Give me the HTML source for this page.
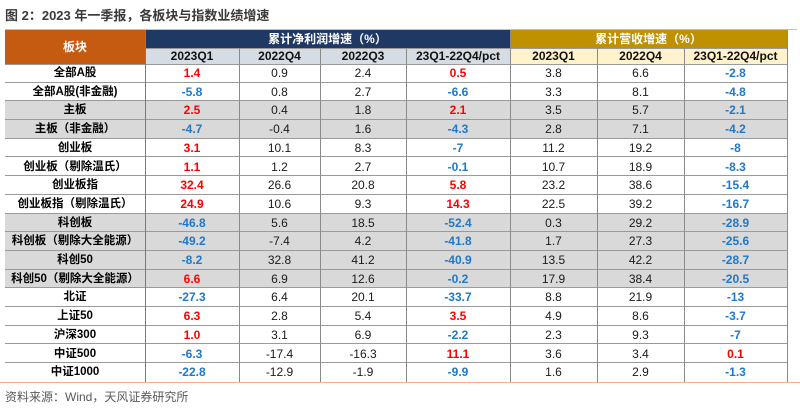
<!DOCTYPE html>
<html><head><meta charset="utf-8">
<style>
html,body{margin:0;padding:0;background:#fff;}
body{width:800px;height:413px;position:relative;overflow:hidden;font-family:"Liberation Sans","Noto Sans CJK SC",sans-serif;}
.abs{position:absolute;}
.title{left:5px;top:7px;height:18px;line-height:18px;font-size:13px;font-weight:bold;color:#3a3a3a;white-space:nowrap;}
.src{left:5px;top:389px;height:16px;line-height:16px;font-size:12px;color:#595959;white-space:nowrap;}
.hl{height:0;}
.r{position:absolute;left:5px;width:782px;height:18.7px;border-bottom:1px solid #9a9a9a;box-sizing:border-box;}
.g{background:#d9d9d9;}
.c{position:absolute;top:0;height:18px;line-height:18px;text-align:center;font-size:12px;color:#1a1a1a;white-space:nowrap;}
.c0{left:0;width:140px;font-weight:bold;font-size:11.5px;color:#000;}
.c1{left:140px;width:94px;}
.c2{left:234px;width:81px;}
.c3{left:315px;width:86px;}
.c4{left:401px;width:104px;}
.c5{left:505px;width:87px;}
.c6{left:592px;width:87px;}
.c7{left:679px;width:103px;}
.R{color:#ff0000;font-weight:bold;}
.B{color:#1f78c8;font-weight:bold;}
.v{position:absolute;width:1px;background:#8a8a8a;}
.h2{position:absolute;top:48px;height:16px;line-height:16px;text-align:center;font-size:12px;font-weight:bold;color:#111;}
</style></head><body>
<div class="abs title">图 2：2023 年一季报，各板块与指数业绩增速</div>

<!-- header -->
<div class="abs" style="left:5px;top:30px;width:140px;height:34px;background:#c55a11;color:#fff;font-weight:bold;font-size:12px;line-height:34px;text-align:center;">板块</div>
<div class="abs" style="left:145px;top:30px;width:365px;height:18px;background:#1f3864;color:#fff;font-weight:bold;font-size:12px;line-height:18px;text-align:center;">累计净利润增速（%）</div>
<div class="abs" style="left:510px;top:30px;width:277px;height:18px;background:#bf9000;color:#fff;font-weight:bold;font-size:12px;line-height:18px;text-align:center;">累计营收增速（%）</div>
<div class="abs" style="left:145px;top:48px;width:365px;height:16px;background:#d6dce4;"></div>
<div class="abs" style="left:510px;top:48px;width:277px;height:16px;background:#fff2cc;"></div>
<div class="h2" style="left:145px;width:94px;">2023Q1</div>
<div class="h2" style="left:239px;width:81px;">2022Q4</div>
<div class="h2" style="left:320px;width:86px;">2022Q3</div>
<div class="h2" style="left:406px;width:104px;">23Q1-22Q4/pct</div>
<div class="h2" style="left:510px;width:87px;">2023Q1</div>
<div class="h2" style="left:597px;width:87px;">2022Q4</div>
<div class="h2" style="left:684px;width:103px;">23Q1-22Q4/pct</div>
<div class="abs" style="left:145px;top:47.5px;width:642px;height:1px;background:#9a9a9a;"></div>
<div class="abs" style="left:5px;top:63.5px;width:782px;height:1px;background:#9a9a9a;"></div>

<!-- rows -->
<div class="r" style="top:64px;"><div class="c c0">全部A股</div><div class="c c1 R">1.4</div><div class="c c2">0.9</div><div class="c c3">2.4</div><div class="c c4 R">0.5</div><div class="c c5">3.8</div><div class="c c6">6.6</div><div class="c c7 B">-2.8</div></div>
<div class="r" style="top:82.7px;"><div class="c c0">全部A股(非金融)</div><div class="c c1 B">-5.8</div><div class="c c2">0.8</div><div class="c c3">2.7</div><div class="c c4 B">-6.6</div><div class="c c5">3.3</div><div class="c c6">8.1</div><div class="c c7 B">-4.8</div></div>
<div class="r g" style="top:101.4px;"><div class="c c0">主板</div><div class="c c1 R">2.5</div><div class="c c2">0.4</div><div class="c c3">1.8</div><div class="c c4 R">2.1</div><div class="c c5">3.5</div><div class="c c6">5.7</div><div class="c c7 B">-2.1</div></div>
<div class="r g" style="top:120.1px;"><div class="c c0">主板（非金融）</div><div class="c c1 B">-4.7</div><div class="c c2">-0.4</div><div class="c c3">1.6</div><div class="c c4 B">-4.3</div><div class="c c5">2.8</div><div class="c c6">7.1</div><div class="c c7 B">-4.2</div></div>
<div class="r" style="top:138.8px;"><div class="c c0">创业板</div><div class="c c1 R">3.1</div><div class="c c2">10.1</div><div class="c c3">8.3</div><div class="c c4 B">-7</div><div class="c c5">11.2</div><div class="c c6">19.2</div><div class="c c7 B">-8</div></div>
<div class="r" style="top:157.5px;"><div class="c c0">创业板（剔除温氏）</div><div class="c c1 R">1.1</div><div class="c c2">1.2</div><div class="c c3">2.7</div><div class="c c4 B">-0.1</div><div class="c c5">10.7</div><div class="c c6">18.9</div><div class="c c7 B">-8.3</div></div>
<div class="r" style="top:176.2px;"><div class="c c0">创业板指</div><div class="c c1 R">32.4</div><div class="c c2">26.6</div><div class="c c3">20.8</div><div class="c c4 R">5.8</div><div class="c c5">23.2</div><div class="c c6">38.6</div><div class="c c7 B">-15.4</div></div>
<div class="r" style="top:194.9px;"><div class="c c0">创业板指（剔除温氏）</div><div class="c c1 R">24.9</div><div class="c c2">10.6</div><div class="c c3">9.3</div><div class="c c4 R">14.3</div><div class="c c5">22.5</div><div class="c c6">39.2</div><div class="c c7 B">-16.7</div></div>
<div class="r g" style="top:213.6px;"><div class="c c0">科创板</div><div class="c c1 B">-46.8</div><div class="c c2">5.6</div><div class="c c3">18.5</div><div class="c c4 B">-52.4</div><div class="c c5">0.3</div><div class="c c6">29.2</div><div class="c c7 B">-28.9</div></div>
<div class="r g" style="top:232.3px;"><div class="c c0">科创板（剔除大全能源）</div><div class="c c1 B">-49.2</div><div class="c c2">-7.4</div><div class="c c3">4.2</div><div class="c c4 B">-41.8</div><div class="c c5">1.7</div><div class="c c6">27.3</div><div class="c c7 B">-25.6</div></div>
<div class="r g" style="top:251px;"><div class="c c0">科创50</div><div class="c c1 B">-8.2</div><div class="c c2">32.8</div><div class="c c3">41.2</div><div class="c c4 B">-40.9</div><div class="c c5">13.5</div><div class="c c6">42.2</div><div class="c c7 B">-28.7</div></div>
<div class="r g" style="top:269.7px;"><div class="c c0">科创50（剔除大全能源）</div><div class="c c1 R">6.6</div><div class="c c2">6.9</div><div class="c c3">12.6</div><div class="c c4 B">-0.2</div><div class="c c5">17.9</div><div class="c c6">38.4</div><div class="c c7 B">-20.5</div></div>
<div class="r" style="top:288.4px;"><div class="c c0">北证</div><div class="c c1 B">-27.3</div><div class="c c2">6.4</div><div class="c c3">20.1</div><div class="c c4 B">-33.7</div><div class="c c5">8.8</div><div class="c c6">21.9</div><div class="c c7 B">-13</div></div>
<div class="r" style="top:307.1px;"><div class="c c0">上证50</div><div class="c c1 R">6.3</div><div class="c c2">2.8</div><div class="c c3">5.4</div><div class="c c4 R">3.5</div><div class="c c5">4.9</div><div class="c c6">8.6</div><div class="c c7 B">-3.7</div></div>
<div class="r" style="top:325.8px;"><div class="c c0">沪深300</div><div class="c c1 R">1.0</div><div class="c c2">3.1</div><div class="c c3">6.9</div><div class="c c4 B">-2.2</div><div class="c c5">2.3</div><div class="c c6">9.3</div><div class="c c7 B">-7</div></div>
<div class="r" style="top:344.5px;"><div class="c c0">中证500</div><div class="c c1 B">-6.3</div><div class="c c2">-17.4</div><div class="c c3">-16.3</div><div class="c c4 R">11.1</div><div class="c c5">3.6</div><div class="c c6">3.4</div><div class="c c7 R">0.1</div></div>
<div class="r" style="top:363.2px;border-bottom:none;"><div class="c c0">中证1000</div><div class="c c1 B">-22.8</div><div class="c c2">-12.9</div><div class="c c3">-1.9</div><div class="c c4 B">-9.9</div><div class="c c5">1.6</div><div class="c c6">2.9</div><div class="c c7 B">-1.3</div></div>

<!-- vertical lines -->
<div class="v" style="left:144.5px;top:30px;height:352px;background:#7a7a7a;"></div>
<div class="v" style="left:238.5px;top:48px;height:334px;"></div>
<div class="v" style="left:319.5px;top:48px;height:334px;"></div>
<div class="v" style="left:405.5px;top:48px;height:334px;"></div>
<div class="v" style="left:509.5px;top:30px;height:352px;"></div>
<div class="v" style="left:596.5px;top:48px;height:334px;"></div>
<div class="v" style="left:683.5px;top:48px;height:334px;"></div>
<div class="v" style="left:786.5px;top:30px;height:352px;"></div>

<!-- orange rules -->
<div class="abs" style="left:5px;top:28.5px;width:792px;height:1px;background:#f4b183;"></div>
<div class="abs" style="left:0px;top:381.5px;width:800px;height:1.5px;background:#f4b183;"></div>

<div class="abs src">资料来源：Wind，天风证券研究所</div>
</body></html>
